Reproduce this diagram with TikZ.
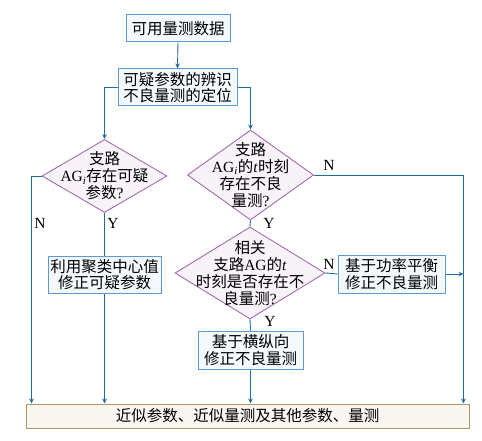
\documentclass[tikz,border=0pt]{standalone}
\usepackage{fontspec}
\setmainfont{Liberation Serif}
\newfontfamily\cjk{Noto Sans CJK SC}
\usetikzlibrary{shapes.geometric,arrows.meta}
\definecolor{lineblue}{HTML}{1F6E9C}
\definecolor{boxblue}{HTML}{5B9BD5}
\definecolor{boxfill}{HTML}{F5F8FD}
\definecolor{diapurple}{HTML}{A468AE}
\definecolor{diafill}{HTML}{F8F3F9}
\definecolor{basetan}{HTML}{B8955F}
\definecolor{basefill}{HTML}{F9F6F1}
\begin{document}
\begin{tikzpicture}[x=1pt,y=-1pt,
  proc/.style={draw=boxblue, fill=boxfill, line width=1pt, inner sep=0pt, align=center,
    font=\fontsize{15.5}{16.5}\selectfont},
  dia/.style={shape=diamond, draw=diapurple, fill=diafill, line width=0.9pt, inner sep=0pt},
  diatext/.style={align=center, inner sep=0pt, font=\fontsize{15.5}{17}\selectfont},
  basebox/.style={draw=basetan, fill=basefill, line width=1pt, inner sep=0pt,
    font=\fontsize{15.5}{16.5}\selectfont},
  conn/.style={draw=lineblue, line width=0.9pt},
  arr/.style={conn, -{Stealth[length=5pt,width=4.5pt]}},
  yn/.style={font=\fontsize{15.5}{16}\selectfont, inner sep=0pt}
]
\useasboundingbox (0,0) rectangle (482,441);

\node[proc, minimum width=104pt, minimum height=27pt] (b1) at (178,28.5) {\cjk 可用量测数据};
\node[proc, minimum width=119pt, minimum height=37pt] (b2) at (177.5,87.5) {\cjk 可疑参数的辨识\\\cjk 不良量测的定位};

\node[dia, minimum width=125pt, minimum height=73pt] (d1) at (104.5,176) {};
\node[diatext] (t1) at (d1) {{\cjk 支路}\\AG\textsubscript{\textit{i}}{\cjk 存在可疑}\\{\cjk 参数}?};

\node[dia, minimum width=126pt, minimum height=90pt] (d2) at (250.5,175) {};
\node[diatext] (t2) at (d2) {{\cjk 支路}\\AG\textsubscript{\textit{i}}{\cjk 的}\textit{t}{\cjk 时刻}\\{\cjk 存在不良}\\{\cjk 量测}?};

\node[dia, minimum width=150pt, minimum height=92pt] (d3) at (250,273) {};
\node[diatext] (t3) at (d3) {{\cjk 相关}\\{\cjk 支路}AG{\cjk 的}\textit{t}\\{\cjk 时刻是否存在不}\\{\cjk 良量测}?};

\node[proc, minimum width=113pt, minimum height=37pt] (b3) at (104.5,274.5) {\cjk 利用聚类中心值\\\cjk 修正可疑参数};
\node[proc, minimum width=107pt, minimum height=38pt] (b4) at (391.5,274) {\cjk 基于功率平衡\\\cjk 修正不良量测};
\node[proc, minimum width=105pt, minimum height=38pt] (b5) at (250.5,350) {\cjk 基于横纵向\\\cjk 修正不良量测};

\node[basebox, minimum width=443pt, minimum height=24pt] (base) at (247.5,416) {\cjk 近似参数、近似量测及其他参数、量测};

\coordinate (lx) at ([xshift=6pt]base.north west);
\coordinate (rx) at ([xshift=-6pt]base.north east);

\draw[arr] (b1.south) -- (b2.north);
\draw[arr] (b2.west) -| (d1.north);
\draw[arr] (b2.east) -| (d2.north);
\draw[arr] (d1.west) -| (lx);
\draw[conn] (d1.south) -- (b3.north);
\draw[arr] (b3.south) -- (b3.south |- base.north);
\draw[arr] (d2.east) -| (rx);
\draw[conn] (d2.south) -- (d3.north);
\draw[conn] (d3.east) -- (b4.west);
\draw[arr] (b4.east) -- (b4.east -| rx);
\draw[conn] (d3.south) -- (b5.north);
\draw[arr] (b5.south) -- (b5.south |- base.north);

\node[yn] (n1) at (40,223) {N};
\node[yn] (y1) at (113,223) {Y};
\node[yn] (n2) at (329,165) {N};
\node[yn] (y2) at (269,223) {Y};
\node[yn] (n3) at (329,264) {N};
\node[yn] (y3) at (270,321) {Y};
\end{tikzpicture}
\end{document}
